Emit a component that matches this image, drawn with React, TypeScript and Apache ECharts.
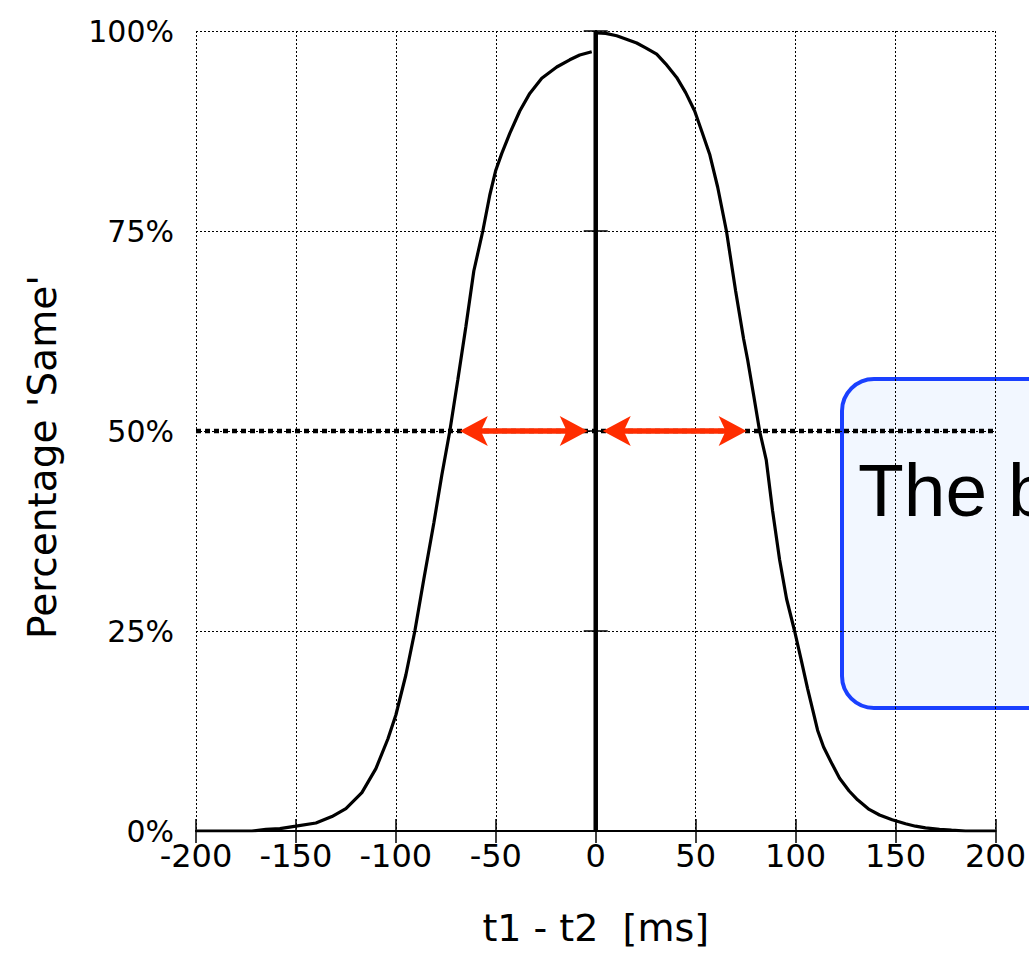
import { useEffect, useRef } from "react";
import * as echarts from "echarts";

// Axis ranges and tick steps
const xMin = -200;
const xMax = 200;
const xStep = 50;
const yMin = 0;
const yMax = 100;
const yStep = 25;

// Rising branch: t1 before t2 (ms, % "same")
const leftX = [
  -200, -185, -172, -165, -158, -150, -140, -132, -125, -117, -110, -104, -100, -95,
  -90.5, -86, -81, -77, -73, -69, -65, -61, -56.5, -53, -50, -47, -43, -38, -33,
  -27, -19.5, -13, -8, -2,
];
const leftY = [
  0, 0, 0, 0.2, 0.3, 0.6, 1.0, 1.8, 2.8, 4.8, 7.8, 11.5, 14.5, 19.5,
  25, 31.5, 38.5, 44.5, 50, 56.4, 63, 70, 75, 79.5, 82.6, 84.7, 87.2, 90.0, 92.2,
  94.1, 95.5, 96.4, 97.0, 97.4,
];

// Falling branch: t1 after t2
const rightX = [
  0.5, 5, 10.5, 15, 20.5, 25, 30.5, 35, 40.5, 45, 49.5, 53, 57, 61, 65.4, 70, 74,
  76, 79, 82, 85.3, 88.5, 92, 95.5, 99.5, 102.8, 106, 108.6, 111, 114, 118.4, 122,
  126.8, 131, 136.8, 142, 148.3, 155, 160, 165, 172, 178, 185, 200,
];
const rightY = [
  99.75, 99.7, 99.4, 99.0, 98.5, 97.9, 97.1, 95.9, 94.2, 92.3, 90.0, 87.5, 84.6,
  80.5, 75, 67.5, 61.5, 58.9, 54.5, 50, 46.4, 40, 33.9, 29, 25, 21.4, 17.8, 15.1,
  12.6, 10.5, 8.3, 6.6, 5.0, 3.9, 2.7, 2.0, 1.4, 0.9, 0.6, 0.4, 0.2, 0.1, 0, 0,
];

// Simultaneous onset marker at t1 = t2
const onsetX = [0, 0];
const onsetY = [0, 100];

// 50% criterion and the half-width spans on either side of zero
const criterionLevel = 50;
const leftSpan = [-68, -4];
const rightSpan = [3.5, 75.5];

const calloutText = "The b";

const AXIS_FONT = "'DejaVu Sans', 'Liberation Sans', sans-serif";
const BOX_FONT = "'Liberation Sans', Arial, Helvetica, sans-serif";
const RED = "#ff2d00";

const pairs = (xs: number[], ys: number[]) => xs.map((x, i) => [x, ys[i]]);

export default function App() {
  const ref = useRef<HTMLDivElement>(null);

  useEffect(() => {
    if (!ref.current) return;
    const chart = echarts.init(ref.current, null, { renderer: "svg" });

    const frameAxis = {
      axisLine: { show: true, lineStyle: { color: "#000", width: 2 } },
      axisTick: { show: true, inside: true, length: 12, lineStyle: { color: "#000", width: 1.5 } },
    };
    const gridDots = { show: true, lineStyle: { color: "#000", width: 1, type: [2, 2] } };

    // heavy dashed level line between two x positions
    const renderLevel = (_params: any, api: any) => {
      const y = api.value(2);
      const a = api.coord([api.value(0), y]);
      const b = api.coord([api.value(1), y]);
      return {
        type: "line",
        shape: { x1: a[0], y1: a[1], x2: b[0], y2: b[1] },
        style: { stroke: "#000", lineWidth: 4.5, lineDash: [5, 4] },
      };
    };

    // double-headed arrow drawn between two data positions at a given level
    const renderSpan = (_params: any, api: any) => {
      const y = api.value(2);
      const a = api.coord([api.value(0), y]);
      const b = api.coord([api.value(1), y]);
      const len = 28;
      const half = 15;
      const notch = 21;
      return {
        type: "group",
        children: [
          {
            type: "line",
            shape: { x1: a[0] + notch - 2, y1: a[1], x2: b[0] - notch + 2, y2: b[1] },
            style: { stroke: RED, lineWidth: 5.5 },
          },
          {
            type: "polygon",
            shape: {
              points: [
                [a[0], a[1]],
                [a[0] + len, a[1] - half],
                [a[0] + notch, a[1]],
                [a[0] + len, a[1] + half],
              ],
            },
            style: { fill: RED },
          },
          {
            type: "polygon",
            shape: {
              points: [
                [b[0], b[1]],
                [b[0] - len, b[1] - half],
                [b[0] - notch, b[1]],
                [b[0] - len, b[1] + half],
              ],
            },
            style: { fill: RED },
          },
        ],
      };
    };

    chart.setOption({
      animation: false,
      backgroundColor: "#fff",
      grid: { left: 196, top: 31, width: 801, height: 800, containLabel: false },
      xAxis: [
        {
          type: "value",
          min: xMin,
          max: xMax,
          interval: xStep,
          position: "bottom",
          ...frameAxis,
          splitLine: gridDots,
          axisLabel: { color: "#000", fontSize: 32, fontFamily: AXIS_FONT, margin: 9 },
          name: "t1 - t2  [ms]",
          nameLocation: "middle",
          nameGap: 78,
          nameTextStyle: { color: "#000", fontSize: 38, fontFamily: AXIS_FONT },
        },
        {
          type: "value",
          min: xMin,
          max: xMax,
          interval: xStep,
          position: "top",
          ...frameAxis,
          splitLine: { show: false },
          axisLabel: { show: false },
        },
      ],
      yAxis: [
        {
          type: "value",
          min: yMin,
          max: yMax,
          interval: yStep,
          position: "left",
          ...frameAxis,
          splitLine: gridDots,
          axisLabel: {
            color: "#000",
            fontSize: 30,
            fontFamily: AXIS_FONT,
            margin: 22,
            formatter: "{value}%",
          },
          name: "Percentage 'Same'",
          nameLocation: "middle",
          nameGap: 134,
          nameTextStyle: {
            color: "#000",
            fontSize: 39,
            fontFamily: AXIS_FONT,
            padding: [0, 52, 0, 0],
          },
        },
        {
          type: "value",
          min: yMin,
          max: yMax,
          interval: yStep,
          position: "right",
          ...frameAxis,
          splitLine: { show: false },
          axisLabel: { show: false },
        },
      ],
      series: [
        {
          name: "criterion",
          type: "custom",
          renderItem: renderLevel,
          data: [[xMin, xMax, criterionLevel]],
          encode: { x: [0, 1], y: 2 },
          z: 2,
        },
        {
          name: "before",
          type: "line",
          data: pairs(leftX, leftY),
          showSymbol: false,
          z: 3,
          lineStyle: { color: "#000", width: 3.2 },
        },
        {
          name: "after",
          type: "line",
          data: pairs(rightX, rightY),
          showSymbol: false,
          z: 3,
          lineStyle: { color: "#000", width: 3.2 },
        },
        {
          name: "spans",
          type: "custom",
          renderItem: renderSpan,
          data: [
            [leftSpan[0], leftSpan[1], criterionLevel],
            [rightSpan[0], rightSpan[1], criterionLevel],
          ],
          encode: { x: [0, 1], y: 2 },
          z: 4,
        },
        {
          name: "onset",
          type: "line",
          data: pairs(onsetX, onsetY),
          showSymbol: false,
          z: 5,
          lineStyle: { color: "#000", width: 4.5 },
        },
      ],
      graphic: [
        {
          type: "group",
          z: 100,
          children: [
            {
              type: "rect",
              shape: { x: 842, y: 379, width: 320, height: 329, r: 32 },
              style: { fill: "#f2f7ff", stroke: "#1a40ff", lineWidth: 4 },
            },
            {
              type: "text",
              x: 858,
              y: 490,
              style: {
                text: calloutText,
                fill: "#000",
                font: `75px ${BOX_FONT}`,
                verticalAlign: "middle",
                align: "left",
              },
            },
          ],
        },
      ],
    });

    return () => chart.dispose();
  }, []);

  return (
    <div
      ref={ref}
      style={{ position: "fixed", left: 0, top: 0, width: 1029, height: 956, background: "#fff" }}
    />
  );
}
